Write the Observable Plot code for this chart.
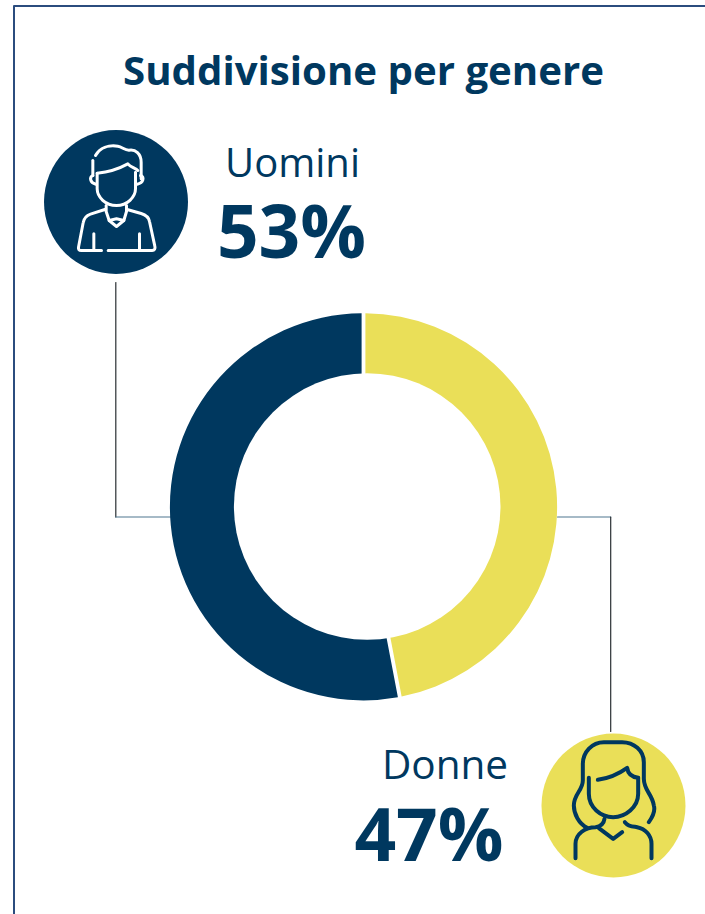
<!DOCTYPE html>
<html lang="it">
<head>
<meta charset="utf-8">
<style>html,body{margin:0;padding:0;background:#fff}svg{display:block}</style>
<script src="https://cdn.jsdelivr.net/npm/d3@7"></script>
<script src="https://cdn.jsdelivr.net/npm/@observablehq/plot@0.6"></script>
</head>
<body>
<script>
const categories = ["Donne", "Uomini"];
const shares = [47, 53];
const sliceColors = ["#eadf58", "#00385f"];
const titleText = "Suddivisione per genere";
const percentLabels = ["47%", "53%"];
const navy = "#00385f";
const FONT = "'Open Sans', 'Noto Sans', sans-serif";

const slices = categories.map((label, i) => ({label, share: shares[i]}));

const manPaths = [
  "M165 90C178 66 205 58 232 62C245 64 252 74 265 74C285 70 302 85 302 110L302 160",
  "M157 105L157 150",
  "M170 143C200 140 235 130 262 115C270 125 285 128 292 135",
  "M170 143L170 190C170 215 195 240 228 240C260 240 285 215 285 190L285 140",
  "M157 150C146 155 148 172 166 176",
  "M300 150C312 155 310 172 290 176",
  "M193 252L150 266C138 270 130 280 128 292L114 365C113 372 116 375 122 375L183 375",
  "M203 375L335 375C342 375 345 370 343 362L327 288C325 276 315 268 302 264L260 252",
  "M197 240L197 258L206 285L228 303L250 285L258 258L258 240",
  "M206 285L228 280L250 285",
  "M160 325L160 375",
  "M297 325L297 375"
];
const womanPaths = [
  "M340 290C358 265 358 250 355 240C350 205 325 195 325 160L325 110C325 75 295 50 260 50L205 50C170 50 142 80 142 115L142 165C142 195 115 205 115 240C115 265 130 295 155 307",
  "M120 398L120 355C120 325 150 305 180 305C195 303 205 295 207 280",
  "M190 308L233 340L260 320",
  "M268 290C280 305 295 303 305 305C330 310 348 330 348 355L348 398",
  "M160 157L160 205C160 245 195 275 233 275C270 275 308 245 308 205L308 157",
  "M187 163C220 158 250 145 275 127C277 145 290 155 308 157"
];
const iconUri = (paths, stroke, sw, w, h) => "data:image/svg+xml," + encodeURIComponent(
  `<svg xmlns="http://www.w3.org/2000/svg" width="${w*2}" height="${h*2}" viewBox="0 0 ${w*3} ${h*3}"><g fill="none" stroke="${stroke}" stroke-width="${sw}" stroke-linecap="round" stroke-linejoin="round">${paths.map(d => `<path d="${d}"/>`).join("")}</g></svg>`);

const people = [
  {cx: 115.5, cy: 201.5, fill: navy},
  {cx: 613, cy: 805, fill: "#eadf58"}
];
const icons = [
  {x: 115, y: 200, w: 150, h: 150, src: iconUri(manPaths, "#fff", 9, 150, 150)},
  {x: 612.5, y: 805, w: 155, h: 160, src: iconUri(womanPaths, navy, 12, 155, 160)}
];
const frame = [{x: 13.5, y: 914}, {x: 13.5, y: 5.5}, {x: 705, y: 5.5}];
const manLeaderV = [{x: 115.3, y: 282}, {x: 115.3, y: 516.5}];
const manLeaderH = [{x: 115.3, y: 516.5}, {x: 170, y: 516.5}];
const womanLeaderH = [{x: 557, y: 516.5}, {x: 610.2, y: 516.5}];
const womanLeaderV = [{x: 610.2, y: 516.5}, {x: 610.2, y: 731}];
const hole = [{x: 366.7, y: 506}];
const texts = [
  {x: 363, y: 84.5, t: titleText, size: 40.2, weight: 700},
  {x: 292, y: 176.5, t: categories[1], size: 40, weight: 400},
  {x: 291, y: 257, t: percentLabels[1], size: 73, weight: 700},
  {x: 444.5, y: 778.5, t: categories[0], size: 40.5, weight: 400},
  {x: 428.5, y: 860, t: percentLabels[0], size: 73, weight: 700}
];

function donut(index, scales, values, dimensions, context, next) {
  const g = next(index, scales, values, dimensions, context);
  const outer = 193.6, inner = 110, gap = 3.8;
  const pie = d3.pie().sort(null).value(d => d.share)(slices);
  const arc = d3.arc().innerRadius(inner).outerRadius(outer).padRadius(outer).padAngle(gap / outer);
  const sel = d3.select(g);
  sel.selectAll("circle").remove();
  const cx = values.x[index[0]], cy = values.y[index[0]];
  index.forEach(i => {
    sel.append("path").attr("d", arc(pie[i])).attr("transform", `translate(${cx},${cy})`)
      .attr("fill", values.fill ? values.fill[i] : sliceColors[i]);
  });
  return g;
}

const chart = Plot.plot({
  width: 705, height: 914, margin: 0,
  x: {domain: [0, 705], range: [0, 705], axis: null},
  y: {domain: [0, 914], range: [0, 914], axis: null},
  color: {domain: categories, range: sliceColors},
  style: {background: "#fff", fontFamily: FONT},
  marks: [
    Plot.line(frame, {x: "x", y: "y", stroke: "#2b4c7e", strokeWidth: 2}),
    Plot.line(manLeaderV, {x: "x", y: "y", stroke: "#2a2f33", strokeWidth: 1.2}),
    Plot.line(manLeaderH, {x: "x", y: "y", stroke: "#4f7790", strokeWidth: 1.2}),
    Plot.line(womanLeaderH, {x: "x", y: "y", stroke: "#4f7790", strokeWidth: 1.2}),
    Plot.line(womanLeaderV, {x: "x", y: "y", stroke: "#2a2f33", strokeWidth: 1.2}),
    Plot.dot(slices, {x: () => 363, y: () => 506.3, r: 193.6, fill: "label", render: donut}),
    Plot.dot(hole, {x: "x", y: "y", r: 133.3, fill: "#fff"}),
    Plot.dot(people, {x: "cx", y: "cy", r: 72, fill: "fill"}),
    Plot.image(icons, {x: "x", y: "y", width: "w", height: "h", src: "src"}),
    ...texts.map(d => Plot.text([d], {
      x: "x", y: "y", text: "t", fill: navy, fontSize: d.size, fontWeight: d.weight,
      fontFamily: FONT, textAnchor: "middle", lineAnchor: "bottom"
    }))
  ]
});
document.body.appendChild(chart);
</script>
</body>
</html>
